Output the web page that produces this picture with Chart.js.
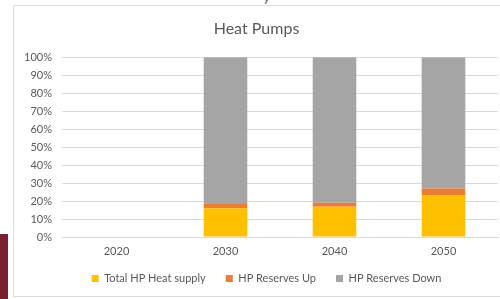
<!DOCTYPE html>
<html>
<head>
<meta charset="utf-8">
<script src="https://cdn.jsdelivr.net/npm/chart.js@4/dist/chart.umd.min.js"></script>
<style>
  html, body { margin: 0; padding: 0; background: #ffffff; }
  body { width: 500px; height: 299px; position: relative; overflow: hidden; }
  #frame { position: absolute; left: 13px; top: 5px; width: 500px; height: 290px; border: 1px solid #dedede; background: #fff; }
  #red { position: absolute; left: 0; top: 234px; width: 8px; height: 65px; background: #7b2030; }
  #wrap { position: absolute; left: 0; top: 0; width: 500px; height: 299px; }
  #frag { position: absolute; left: 263px; top: -12px; font: 14px Lato, sans-serif; color: #666; }
</style>
</head>
<body>
<div id="frame"></div>
<div id="red"></div>
<div id="frag">y</div>
<div id="wrap"><canvas id="c" width="500" height="299"></canvas></div>
<script>
const categories = ['2020', '2030', '2040', '2050'];
const heatSupply = [0, 16, 16.8, 23.3];
const reservesUp = [0, 2.3, 2.2, 3.7];
const reservesDown = [0, 81.7, 81, 73];
const yTickLabels = ['0%','10%','20%','30%','40%','50%','60%','70%','80%','90%','100%'];

const FONT = 'Lato, "Open Sans", sans-serif';
const TXT = '#595959';

const legendTweak = {
  id: 'legendTweak',
  afterInit(chart) {
    const lg = chart.legend;
    if (!lg) return;
    const fit = lg.fit.bind(lg);
    lg.fit = function () { fit(); this.height = 40; };
  },
  afterLayout(chart) {
    const lg = chart.legend;
    if (!lg) return;
    lg.top -= 6; lg.bottom -= 6;
    lg.left += 10; lg.right += 10;
  }
};

new Chart(document.getElementById('c'), {
  type: 'bar',
  data: {
    labels: categories,
    datasets: [
      { label: 'Total HP Heat supply', data: heatSupply, backgroundColor: '#FFC000' },
      { label: 'HP Reserves Up', data: reservesUp, backgroundColor: '#ED7D31' },
      { label: 'HP Reserves Down', data: reservesDown, backgroundColor: '#A5A5A5' }
    ]
  },
  plugins: [legendTweak],
  options: {
    responsive: false,
    animation: false,
    devicePixelRatio: 1,
    layout: { padding: { left: 15, right: 2, top: 12, bottom: 0 } },
    datasets: { bar: { categoryPercentage: 1, barPercentage: 0.4 } },
    plugins: {
      title: {
        display: true, text: 'Heat Pumps', color: TXT,
        font: { family: FONT, size: 16, weight: 'normal' },
        padding: { top: 7, bottom: 19 }
      },
      legend: {
        position: 'bottom',
        labels: {
          color: TXT, boxWidth: 7, boxHeight: 7, padding: 20,
          font: { family: FONT, size: 11 }
        }
      },
      tooltip: { enabled: false }
    },
    scales: {
      x: {
        stacked: true,
        grid: { display: false, drawTicks: false },
        border: { display: true, color: '#d9d9d9' },
        afterFit: s => { s.height = 22; },
        ticks: { color: TXT, font: { family: FONT, size: 11 }, padding: 8 }
      },
      y: {
        stacked: true, min: 0, max: 100,
        grid: { color: '#d9d9d9', drawTicks: false },
        border: { display: false },
        afterFit: s => { s.width = 47; },
        ticks: {
          stepSize: 10, color: TXT, padding: 10,
          font: { family: FONT, size: 11 },
          callback: (v) => yTickLabels[Math.round(v / 10)]
        }
      }
    }
  }
});
</script>
</body>
</html>
